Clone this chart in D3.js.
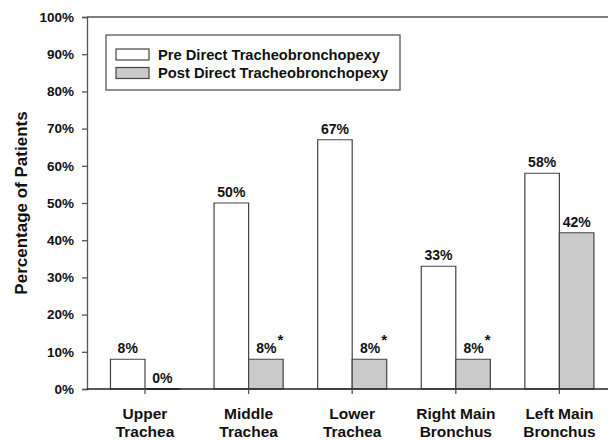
<!DOCTYPE html>
<html>
<head>
<meta charset="utf-8">
<script src="https://cdn.jsdelivr.net/npm/d3@7"></script>
<style>
  body { margin: 0; background: #fff; }
  text { font-family: Arial, "Liberation Sans", sans-serif; font-weight: bold; fill: #111; }
</style>
</head>
<body>
<div id="chart"></div>
<script>
const categories = [["Upper", "Trachea"], ["Middle", "Trachea"], ["Lower", "Trachea"], ["Right Main", "Bronchus"], ["Left Main", "Bronchus"]];
const seriesNames = ["Pre Direct Tracheobronchopexy", "Post Direct Tracheobronchopexy"];
const preValues = [8, 50, 67, 33, 58];
const postValues = [0, 8, 8, 8, 42];
const postSignificant = [false, true, true, true, false];
const yTicks = [0, 10, 20, 30, 40, 50, 60, 70, 80, 90, 100];

const width = 608, height = 440;
const plotLeft = 87, plotTop = 17, plotBottom = 389;
const colors = ["#ffffff", "#cacaca"];
const axisColor = "#555";

const svg = d3.select('#chart').append('svg')
    .attr('width', width)
    .attr('height', height);

const keys = categories.map(c => c.join(' '));

const x0 = d3.scaleBand()
    .domain(keys)
    .range([93.2, 611.2])
    .paddingInner(1 / 3)
    .paddingOuter(1 / 6);

const x1 = d3.scaleBand()
    .domain([0, 1])
    .range([0, x0.bandwidth()]);

const y = d3.scaleLinear()
    .domain([0, 100])
    .range([plotBottom, plotTop]);

// y axis
const yAxis = svg.append('g')
    .attr('transform', `translate(${plotLeft},0)`)
    .call(d3.axisLeft(y).tickValues(yTicks).tickSize(5).tickPadding(8).tickFormat(d => d + '%'));
yAxis.select('.domain').attr('stroke', axisColor).attr('stroke-width', 1.3);
yAxis.selectAll('.tick line').attr('stroke', axisColor).attr('stroke-width', 1.3);
yAxis.selectAll('.tick text').style('font-size', '13.5px').attr('fill', '#111');

// top frame line
svg.append('line')
    .attr('x1', plotLeft).attr('x2', width)
    .attr('y1', y(100)).attr('y2', y(100))
    .attr('stroke', axisColor).attr('stroke-width', 1.3);

svg.append('text')
    .attr('transform', `translate(27,${(plotTop + plotBottom) / 2}) rotate(-90)`)
    .attr('text-anchor', 'middle')
    .style('font-size', '17px')
    .text('Percentage of Patients');

// bars
const rows = keys.map((k, i) => ({ key: k, values: [preValues[i], postValues[i]], sig: postSignificant[i] }));

const barPath = (x, w, v) => `M${x},${y(0)}V${y(v)}H${x + w}V${y(0)}Z`;

const groups = svg.append('g').selectAll('g')
    .data(rows)
    .join('g')
    .attr('transform', d => `translate(${x0(d.key)},0)`);

groups.selectAll('path')
    .data(d => d.values.map((v, s) => ({ v, s })))
    .join('path')
    .attr('d', d => barPath(x1(d.s), x1.bandwidth(), d.v))
    .attr('fill', d => colors[d.s])
    .attr('stroke', '#444')
    .attr('stroke-width', d => d.v === 0 ? 2 : 1.2);

const labels = groups.selectAll('text')
    .data(d => d.values.map((v, s) => ({ v, s, sig: s === 1 && d.sig })))
    .join('text')
    .attr('x', d => x1(d.s) + x1.bandwidth() / 2 + (d.sig ? 4 : 0))
    .attr('y', d => y(d.v) - 6)
    .attr('text-anchor', 'middle')
    .style('font-size', '14px')
    .text(d => d.v + '%');

labels.filter(d => d.sig)
    .append('tspan')
    .attr('dx', 1)
    .attr('dy', -8)
    .style('font-size', '15px')
    .text('*');

// x axis
svg.append('line')
    .attr('x1', plotLeft).attr('x2', width)
    .attr('y1', y(0)).attr('y2', y(0))
    .attr('stroke', '#222').attr('stroke-width', 1.3);

svg.append('g').selectAll('line')
    .data(keys)
    .join('line')
    .attr('x1', d => x0(d) + x0.bandwidth() / 2)
    .attr('x2', d => x0(d) + x0.bandwidth() / 2)
    .attr('y1', y(0)).attr('y2', y(0) + 5)
    .attr('stroke', axisColor).attr('stroke-width', 1.3);

const xLabels = svg.append('g').selectAll('text')
    .data(categories)
    .join('text')
    .attr('text-anchor', 'middle')
    .style('font-size', '15.5px');

xLabels.selectAll('tspan')
    .data((d, i) => d.map(t => ({ t, k: keys[i] })))
    .join('tspan')
    .attr('x', d => x0(d.k) + x0.bandwidth() / 2)
    .attr('y', (d, j) => 419 + j * 18)
    .text(d => d.t);

// legend
const legend = svg.append('g');
legend.append('rect')
    .attr('x', 106).attr('y', 35)
    .attr('width', 294).attr('height', 55)
    .attr('fill', '#fff')
    .attr('stroke', axisColor).attr('stroke-width', 1.3);

const items = legend.selectAll('g')
    .data(seriesNames)
    .join('g')
    .attr('transform', (d, i) => `translate(116,${49 + i * 18.5})`);

items.append('rect')
    .attr('width', 33).attr('height', 11)
    .attr('fill', (d, i) => colors[i])
    .attr('stroke', '#444').attr('stroke-width', 1.2);

items.append('text')
    .attr('x', 42).attr('y', 10.5)
    .style('font-size', '14.7px')
    .text(d => d);
</script>
</body>
</html>
